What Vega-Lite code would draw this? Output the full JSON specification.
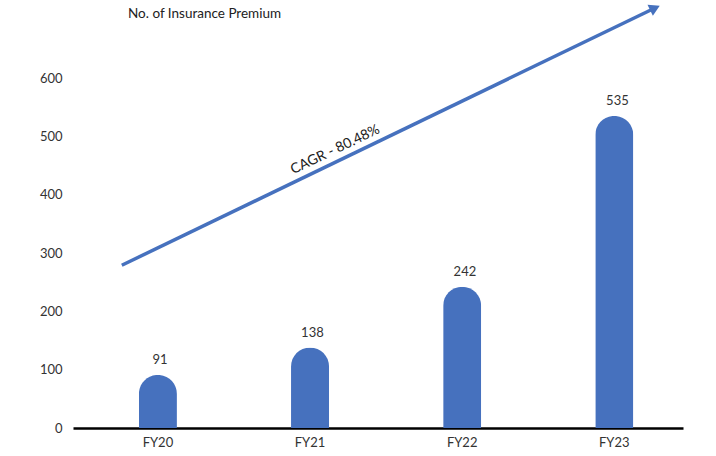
{
  "$schema": "https://vega.github.io/schema/vega-lite/v6.json",
  "width": 610,
  "height": 350,
  "autosize": {"type": "none"},
  "padding": {"left": 73, "top": 78, "right": 33, "bottom": 28},
  "background": "white",
  "config": {
    "view": {"stroke": null},
    "font": "Lato",
    "text": {"font": "Lato"}
  },
  "title": {
    "text": "No. of Insurance Premium",
    "anchor": "start",
    "frame": "group",
    "baseline": "bottom",
    "dx": 55,
    "offset": -33,
    "fontSize": 13.5,
    "fontWeight": "normal",
    "color": "#222222",
    "font": "Lato"
  },
  "datasets": {
    "bars": [
      {"year": "FY20", "value": 91},
      {"year": "FY21", "value": 138},
      {"year": "FY22", "value": 242},
      {"year": "FY23", "value": 535}
    ],
    "arrow": [
      {"px": 8, "v": 279},
      {"px": 95.4, "v": 720}
    ],
    "arrowhead": [
      {"px": 95.4, "v": 720}
    ],
    "cagr": [
      {"px": 43, "v": 477, "label": "CAGR - 80.48%"}
    ]
  },
  "resolve": {"scale": {"x": "independent"}, "axis": {"x": "independent"}},
  "layer": [
    {
      "data": {"name": "bars"},
      "mark": {"type": "bar", "color": "#4671BE", "cornerRadiusTopLeft": 19, "cornerRadiusTopRight": 19},
      "encoding": {
        "x": {
          "field": "year", "type": "nominal", "sort": null,
          "scale": {"paddingInner": 0.75, "paddingOuter": 0.38, "align": 0.57},
          "axis": {"title": null, "ticks": false, "labelAngle": 0, "labelPadding": 8, "labelFontSize": 13, "labelColor": "#333333", "domainColor": "#000000", "domainWidth": 2.5, "labelFont": "Lato"}
        },
        "y": {
          "field": "value", "type": "quantitative",
          "scale": {"domain": [0, 600], "nice": false},
          "axis": {"title": null, "ticks": false, "domain": false, "grid": false, "values": [0, 100, 200, 300, 400, 500, 600], "labelPadding": 11, "labelFontSize": 13, "labelColor": "#333333", "labelFont": "Lato"}
        }
      }
    },
    {
      "data": {"name": "bars"},
      "mark": {"type": "text", "dy": -8, "fontSize": 13, "color": "#333333", "baseline": "bottom"},
      "encoding": {
        "x": {"field": "year", "type": "nominal", "sort": null,
              "scale": {"paddingInner": 0.75, "paddingOuter": 0.38, "align": 0.57}, "axis": null},
        "y": {"field": "value", "type": "quantitative"},
        "text": {"field": "value", "type": "quantitative"}
      }
    },
    {
      "data": {"name": "arrow"},
      "mark": {"type": "line", "color": "#4671BE", "strokeWidth": 3.5},
      "encoding": {
        "x": {"field": "px", "type": "quantitative", "scale": {"domain": [0, 100]}, "axis": null},
        "y": {"field": "v", "type": "quantitative"}
      }
    },
    {
      "data": {"name": "arrowhead"},
      "mark": {"type": "point", "shape": "triangle-up", "filled": true, "color": "#4671BE", "opacity": 1, "size": 150, "angle": 64},
      "encoding": {
        "x": {"field": "px", "type": "quantitative", "scale": {"domain": [0, 100]}, "axis": null},
        "y": {"field": "v", "type": "quantitative"}
      }
    },
    {
      "data": {"name": "cagr"},
      "mark": {"type": "text", "angle": -25.7, "fontSize": 14, "color": "#222222"},
      "encoding": {
        "x": {"field": "px", "type": "quantitative", "scale": {"domain": [0, 100]}, "axis": null},
        "y": {"field": "v", "type": "quantitative"},
        "text": {"field": "label", "type": "nominal"}
      }
    }
  ]
}
